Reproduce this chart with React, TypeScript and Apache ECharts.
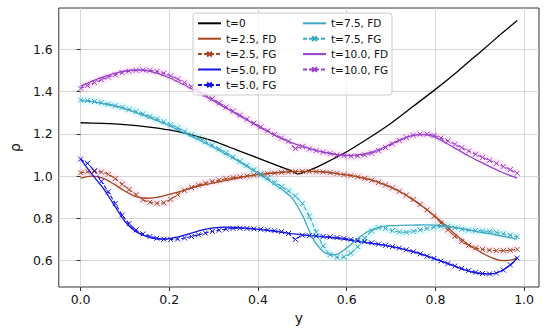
import React, { useEffect, useRef } from "react";
import * as echarts from "echarts";

// x positions of the FD (solid) curves
const FD_X = [0, 0.025, 0.05, 0.075, 0.1, 0.125, 0.15, 0.175, 0.2, 0.225, 0.25, 0.275, 0.3, 0.325, 0.35, 0.375, 0.4, 0.425, 0.45, 0.475, 0.5, 0.525, 0.55, 0.575, 0.6, 0.625, 0.65, 0.675, 0.7, 0.725, 0.75, 0.775, 0.8, 0.825, 0.85, 0.875, 0.9, 0.925, 0.95, 0.975, 0.984375];
// FG grid: 64 points, i/64
const FG_N = 64;
const FG_X = Array.from({ length: FG_N }, (_, i) => i / FG_N);

const T0_X = [0, 0.05, 0.1, 0.15, 0.2, 0.25, 0.3, 0.35, 0.4, 0.45, 0.475, 0.49, 0.5, 0.525, 0.55, 0.6, 0.65, 0.7, 0.75, 0.8, 0.85, 0.9, 0.95, 0.984375];
const T0 = [1.252, 1.249, 1.243, 1.233, 1.218, 1.195, 1.165, 1.125, 1.085, 1.045, 1.025, 1.01, 1.015, 1.035, 1.06, 1.115, 1.18, 1.25, 1.33, 1.41, 1.495, 1.585, 1.675, 1.736];

const T25_FD = [0.99, 1.0, 0.99, 0.962, 0.928, 0.903, 0.895, 0.9, 0.913, 0.928, 0.943, 0.957, 0.968, 0.978, 0.989, 0.999, 1.007, 1.013, 1.018, 1.021, 1.022, 1.022, 1.019, 1.013, 1.005, 0.996, 0.985, 0.968, 0.947, 0.92, 0.887, 0.85, 0.808, 0.762, 0.715, 0.675, 0.643, 0.615, 0.6, 0.605, 0.615];
const T25_FG = [1.015, 1.02, 1.022, 1.019, 1.008, 0.988, 0.961, 0.936, 0.912, 0.888, 0.876, 0.871, 0.874, 0.89, 0.912, 0.932, 0.946, 0.957, 0.966, 0.974, 0.981, 0.987, 0.992, 0.996, 1.0, 1.004, 1.008, 1.011, 1.014, 1.017, 1.019, 1.021, 1.022, 1.022, 1.021, 1.019, 1.016, 1.012, 1.007, 1.002, 0.996, 0.989, 0.98, 0.97, 0.958, 0.944, 0.928, 0.91, 0.889, 0.866, 0.84, 0.81, 0.778, 0.745, 0.715, 0.69, 0.672, 0.66, 0.653, 0.649, 0.647, 0.647, 0.649, 0.653];

const T50_FD = [1.08, 1.01, 0.945, 0.865, 0.785, 0.737, 0.713, 0.702, 0.704, 0.715, 0.73, 0.745, 0.755, 0.758, 0.757, 0.753, 0.748, 0.742, 0.735, 0.728, 0.722, 0.717, 0.712, 0.706, 0.699, 0.691, 0.683, 0.675, 0.666, 0.655, 0.642, 0.626, 0.607, 0.588, 0.568, 0.55, 0.538, 0.537, 0.553, 0.59, 0.613];
const T50_FG = [1.08, 1.06, 1.025, 0.975, 0.925, 0.87, 0.815, 0.775, 0.745, 0.726, 0.714, 0.706, 0.701, 0.7, 0.702, 0.707, 0.714, 0.722, 0.73, 0.738, 0.744, 0.749, 0.752, 0.753, 0.752, 0.75, 0.748, 0.745, 0.741, 0.737, 0.728, 0.7, 0.72, 0.718, 0.716, 0.714, 0.712, 0.709, 0.705, 0.7, 0.695, 0.69, 0.684, 0.678, 0.672, 0.666, 0.659, 0.651, 0.642, 0.632, 0.621, 0.61, 0.598, 0.586, 0.574, 0.563, 0.553, 0.545, 0.539, 0.537, 0.541, 0.555, 0.58, 0.612];

const T75_FD = [1.358, 1.352, 1.343, 1.332, 1.318, 1.3, 1.28, 1.26, 1.238, 1.213, 1.188, 1.162, 1.135, 1.106, 1.077, 1.045, 1.012, 0.978, 0.942, 0.9, 0.815, 0.7, 0.638, 0.628, 0.66, 0.705, 0.74, 0.758, 0.765, 0.767, 0.768, 0.769, 0.768, 0.763, 0.755, 0.745, 0.735, 0.726, 0.716, 0.706, 0.702];
const T75_FG = [1.36, 1.357, 1.353, 1.347, 1.34, 1.333, 1.325, 1.315, 1.305, 1.294, 1.282, 1.27, 1.257, 1.243, 1.228, 1.212, 1.196, 1.18, 1.163, 1.146, 1.128, 1.11, 1.09, 1.07, 1.05, 1.03, 1.01, 0.99, 0.97, 0.95, 0.93, 0.905, 0.87, 0.81, 0.735, 0.67, 0.628, 0.615, 0.617, 0.635, 0.665, 0.705, 0.74, 0.755, 0.752, 0.742, 0.735, 0.734, 0.738, 0.745, 0.752, 0.758, 0.762, 0.762, 0.755, 0.748, 0.744, 0.742, 0.74, 0.737, 0.733, 0.727, 0.72, 0.712];

const T100_FD = [1.425, 1.448, 1.468, 1.485, 1.497, 1.502, 1.498, 1.485, 1.465, 1.44, 1.413, 1.385, 1.355, 1.325, 1.295, 1.265, 1.235, 1.207, 1.18, 1.158, 1.14, 1.125, 1.112, 1.103, 1.098, 1.1, 1.11, 1.128, 1.152, 1.175, 1.192, 1.196, 1.183, 1.155, 1.125, 1.095, 1.068, 1.042, 1.018, 0.997, 0.99];
const T100_FG = [1.415, 1.428, 1.442, 1.456, 1.468, 1.479, 1.489, 1.496, 1.5, 1.502, 1.5, 1.495, 1.486, 1.474, 1.459, 1.442, 1.424, 1.405, 1.386, 1.366, 1.346, 1.326, 1.307, 1.288, 1.269, 1.25, 1.232, 1.214, 1.197, 1.18, 1.165, 1.13, 1.14, 1.128, 1.12, 1.113, 1.107, 1.1, 1.096, 1.094, 1.095, 1.1, 1.108, 1.12, 1.135, 1.152, 1.168, 1.182, 1.193, 1.198, 1.198, 1.192, 1.18, 1.166, 1.15, 1.134, 1.118, 1.103, 1.088, 1.074, 1.06, 1.045, 1.03, 1.013];

const X_TICKS = [0, 0.2, 0.4, 0.6, 0.8, 1.0];
const Y_TICKS = [0.6, 0.8, 1.0, 1.2, 1.4, 1.6];

const LEGEND_COL1 = ["t=0", "t=2.5, FD", "t=2.5, FG", "t=5.0, FD", "t=5.0, FG"];
const LEGEND_COL2 = ["t=7.5, FD", "t=7.5, FG", "t=10.0, FD", "t=10.0, FG"];

const C_T0 = "#000000";
const C_25 = "#a8461f";
const C_50 = "#1414e6";
const C_75 = "#3ea8c2";
const C_100 = "#9a3fcc";

const X_SYMBOL = "path://M0,0L10,10M10,0L0,10";
const FONT = "DejaVu Sans";

function fd(name: string, xs: number[], ys: number[], color: string, smooth = 0.3) {
  return {
    name,
    type: "line",
    data: xs.map((x, i) => [x, ys[i]]),
    symbol: "none",
    smooth,
    lineStyle: { color, width: 1.3 },
    itemStyle: { color },
    z: 3,
  };
}

function fg(name: string, ys: number[], color: string) {
  return {
    name,
    type: "line",
    data: FG_X.map((x, i) => [x, ys[i]]),
    symbol: X_SYMBOL,
    symbolSize: 5,
    showSymbol: true,
    smooth: 0.2,
    lineStyle: { color, width: 1.1, type: [4, 2] },
    itemStyle: { color, borderColor: color, borderWidth: 1 },
    z: 3,
  };
}

function glow(ys: number[], color: string) {
  return {
    type: "line",
    data: FG_X.map((x, i) => [x, ys[i]]),
    symbol: "none",
    smooth: 0.2,
    silent: true,
    lineStyle: { color, width: 9 },
    z: 1,
  };
}

function legendItems(names: string[]) {
  return names.map((n) => (n.indexOf("FG") >= 0 ? { name: n } : { name: n, itemStyle: { opacity: 0 } }));
}

export default function App() {
  const ref = useRef<HTMLDivElement>(null);
  useEffect(() => {
    if (!ref.current) return;
    const chart = echarts.init(ref.current, null, { renderer: "svg" });
    const legendCommon = {
      orient: "vertical",
      itemWidth: 23,
      itemHeight: 6,
      itemGap: 3.4,
      padding: 0,
      textStyle: { fontSize: 10.5, fontFamily: FONT, color: "#111", lineHeight: 12 },
      z: 6,
    };
    chart.setOption({
      animation: false,
      backgroundColor: "#ffffff",
      grid: { left: 48, right: 11, top: 8, bottom: 46, show: true, borderColor: "#333", borderWidth: 1, backgroundColor: "transparent" },
      xAxis: {
        type: "value",
        min: -0.0492,
        max: 1.0336,
        name: "y",
        nameLocation: "middle",
        nameGap: 22,
        nameTextStyle: { fontSize: 14, fontFamily: FONT, color: "#111" },
        axisLine: { show: false },
        axisTick: { show: true, inside: false, length: 4, lineStyle: { color: "#333" }, customValues: X_TICKS },
        axisLabel: { customValues: X_TICKS, fontSize: 12.5, fontFamily: FONT, color: "#111", margin: 6, formatter: (v: number) => v.toFixed(1) },
        splitLine: { show: true, lineStyle: { color: "#cccccc", width: 0.8 }, customValues: X_TICKS },
      },
      yAxis: {
        type: "value",
        min: 0.475,
        max: 1.795,
        name: "ρ",
        nameLocation: "middle",
        nameGap: 36,
        nameRotate: 90,
        nameTextStyle: { fontSize: 14, fontFamily: FONT, color: "#111" },
        axisLine: { show: false },
        axisTick: { show: true, inside: false, length: 4, lineStyle: { color: "#333" }, customValues: Y_TICKS },
        axisLabel: { customValues: Y_TICKS, fontSize: 12.5, fontFamily: FONT, color: "#111", margin: 6, formatter: (v: number) => v.toFixed(1) },
        splitLine: { show: true, lineStyle: { color: "#cccccc", width: 0.8 }, customValues: Y_TICKS },
      },
      legend: [
        { ...legendCommon, left: 197, top: 17.3, data: legendItems(LEGEND_COL1) },
        { ...legendCommon, left: 302, top: 17.3, data: legendItems(LEGEND_COL2) },
      ],
      graphic: [
        {
          type: "rect",
          z: 5,
          shape: { x: 193, y: 13, width: 199, height: 82, r: 3 },
          style: { fill: "rgba(255,255,255,0.8)", stroke: "#cccccc", lineWidth: 1 },
        },
      ],
      series: [
        glow(T25_FG, "rgba(255,140,210,0.16)"),
        glow(T100_FG, "rgba(255,140,220,0.16)"),
        glow(T75_FG, "rgba(80,235,255,0.16)"),
        fd("t=0", T0_X, T0, C_T0, 0.2),
        fd("t=2.5, FD", FD_X, T25_FD, C_25),
        fg("t=2.5, FG", T25_FG, C_25),
        fd("t=5.0, FD", FD_X, T50_FD, C_50),
        fg("t=5.0, FG", T50_FG, C_50),
        fd("t=7.5, FD", FD_X, T75_FD, C_75),
        fg("t=7.5, FG", T75_FG, C_75),
        fd("t=10.0, FD", FD_X, T100_FD, C_100),
        fg("t=10.0, FG", T100_FG, C_100),
      ],
    });
    return () => chart.dispose();
  }, []);
  return <div ref={ref} style={{ width: 550, height: 333, position: "absolute", left: 0, top: 0 }} />;
}
